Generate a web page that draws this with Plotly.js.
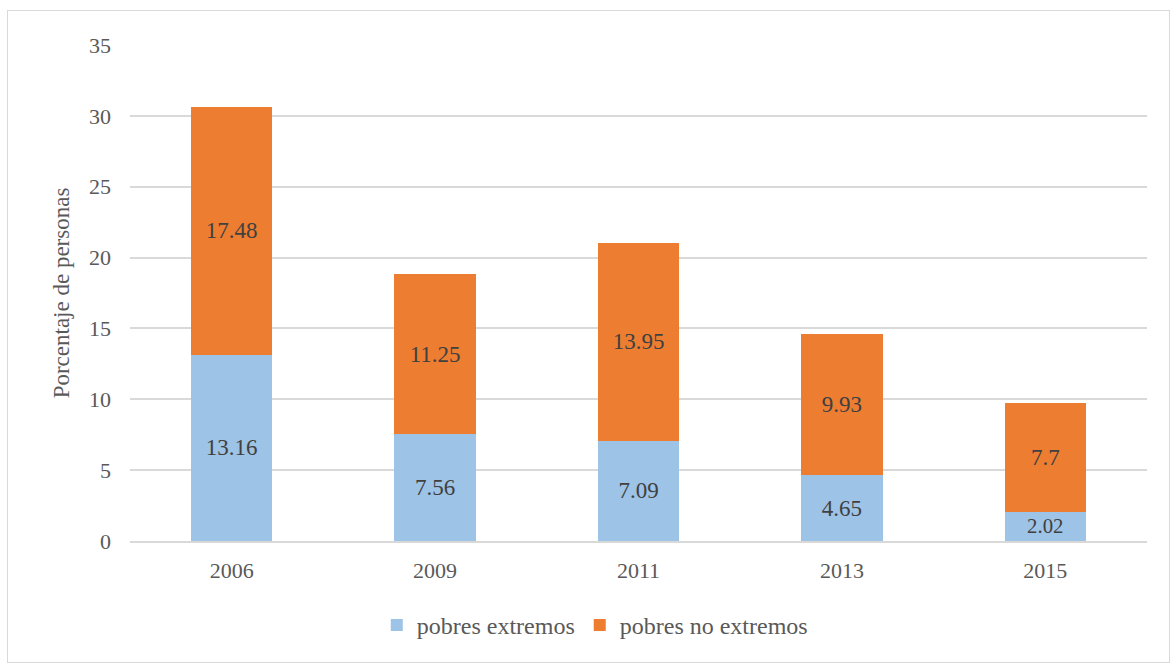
<!DOCTYPE html>
<html>
<head>
<meta charset="utf-8">
<script src="https://cdn.plot.ly/plotly-3.0.1.min.js"></script>
<style>
html,body{margin:0;padding:0;background:#fff;}
#frame{position:absolute;left:7px;top:10px;width:1161px;height:651px;border:1px solid #d9d9d9;pointer-events:none;z-index:5;}
#chart{position:absolute;left:0;top:0;width:1170px;height:664px;}
</style>
</head>
<body>
<div id="chart"></div>
<div id="frame"></div>
<script>
var years = ['2006', '2009', '2011', '2013', '2015'];
var extremos = [13.16, 7.56, 7.09, 4.65, 2.02];
var noExtremos = [17.48, 11.25, 13.95, 9.93, 7.7];
var seriesNames = ['pobres extremos', 'pobres no extremos'];

var serif = '"Liberation Serif", "Times New Roman", serif';

var traces = [
  {
    type: 'bar', name: seriesNames[0], x: years, y: extremos,
    marker: {color: '#9DC3E6'},
    text: extremos.map(String), textposition: 'inside', insidetextanchor: 'middle',
    textfont: {family: serif, size: 23, color: '#404040'}, hoverinfo: 'none'
  },
  {
    type: 'bar', name: seriesNames[1], x: years, y: noExtremos,
    marker: {color: '#ED7D31'},
    text: noExtremos.map(String), textposition: 'inside', insidetextanchor: 'middle',
    textfont: {family: serif, size: 23, color: '#404040'}, hoverinfo: 'none'
  }
];

var layout = {
  width: 1170, height: 664,
  barmode: 'stack', bargap: 0.6,
  margin: {l: 130, r: 23, t: 45, b: 123},
  paper_bgcolor: '#fff', plot_bgcolor: '#fff',
  font: {family: serif, color: '#595959', size: 22},
  xaxis: {
    type: 'category', tickfont: {family: serif, size: 22, color: '#595959'},
    showgrid: false, showline: true, linecolor: '#d9d9d9', linewidth: 2,
    ticks: '', ticklen: 0, ticklabelstandoff: 9
  },
  yaxis: {
    range: [0, 35], dtick: 5, tick0: 0,
    showgrid: true, gridcolor: '#d9d9d9', gridwidth: 2,
    zeroline: false, showline: false, ticks: '', ticklabelstandoff: 18,
    tickfont: {family: serif, size: 22, color: '#595959'},
    title: {text: 'Porcentaje de personas', font: {family: serif, size: 23, color: '#595959'}, standoff: 12}
  },
  legend: {
    orientation: 'h', x: 0.457, xanchor: 'center', y: -0.17, yanchor: 'middle',
    font: {family: serif, size: 24, color: '#595959'},
    itemwidth: 30, traceorder: 'normal'
  },
  showlegend: true
};

Plotly.newPlot('chart', traces, layout, {displayModeBar: false, staticPlot: true});
</script>
</body>
</html>
